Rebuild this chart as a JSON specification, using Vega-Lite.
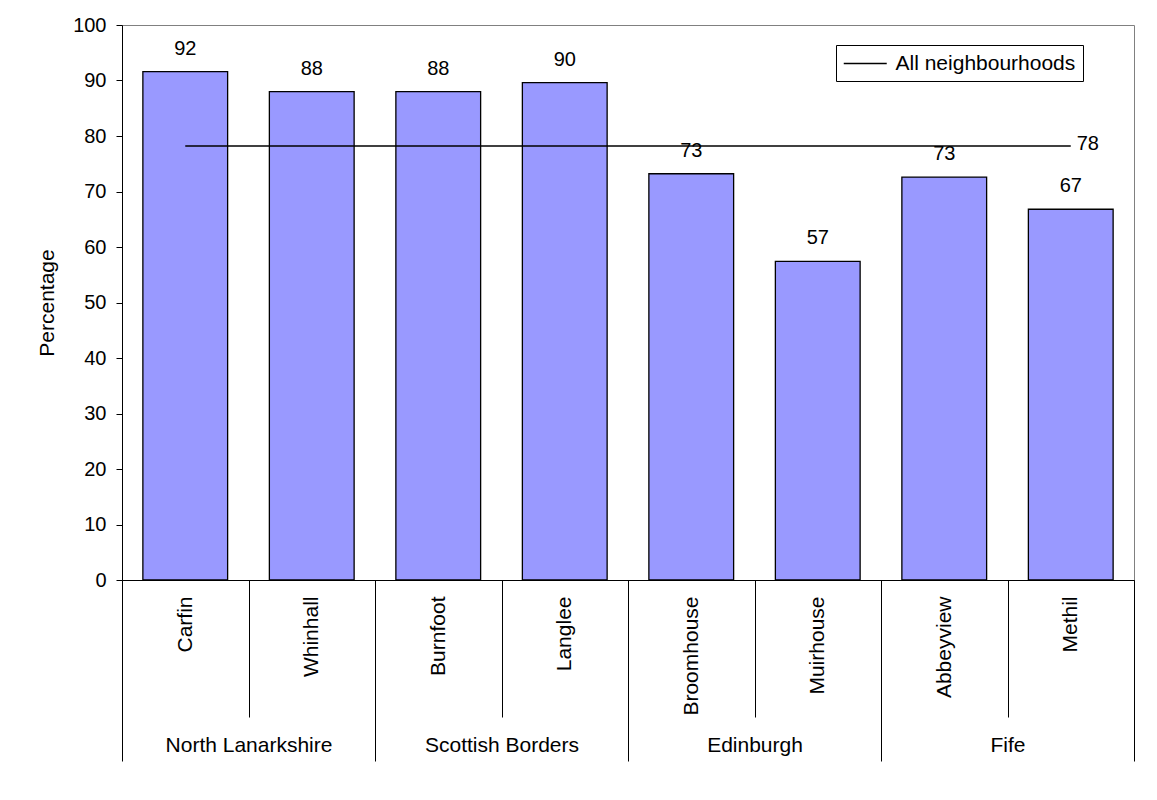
{
  "$schema": "https://vega.github.io/schema/vega-lite/v6.json",
  "width": 1012,
  "height": 555,
  "autosize": {"type": "none"},
  "padding": {"left": 122, "top": 25, "right": 23, "bottom": 220},
  "background": "white",
  "config": {
    "font": "Liberation Sans",
    "view": {"stroke": "#808080", "strokeWidth": 1},
    "axis": {
      "labelFont": "Liberation Sans",
      "titleFont": "Liberation Sans",
      "labelColor": "black",
      "titleColor": "black",
      "domainColor": "black",
      "tickColor": "black",
      "labelFontSize": 20,
      "titleFontSize": 21,
      "titleFontWeight": "normal",
      "grid": false
    },
    "text": {"font": "Liberation Sans", "fontSize": 20, "color": "black"}
  },
  "datasets": {
    "bars": [
      {"name": "Carfin", "group": "North Lanarkshire", "value": 91.6},
      {"name": "Whinhall", "group": "North Lanarkshire", "value": 88.0},
      {"name": "Burnfoot", "group": "Scottish Borders", "value": 88.0},
      {"name": "Langlee", "group": "Scottish Borders", "value": 89.6},
      {"name": "Broomhouse", "group": "Edinburgh", "value": 73.2},
      {"name": "Muirhouse", "group": "Edinburgh", "value": 57.4},
      {"name": "Abbeyview", "group": "Fife", "value": 72.6},
      {"name": "Methil", "group": "Fife", "value": 66.8}
    ],
    "overall": [
      {"name": "Carfin", "value": 78.2},
      {"name": "Whinhall", "value": 78.2},
      {"name": "Burnfoot", "value": 78.2},
      {"name": "Langlee", "value": 78.2},
      {"name": "Broomhouse", "value": 78.2},
      {"name": "Muirhouse", "value": 78.2},
      {"name": "Abbeyview", "value": 78.2},
      {"name": "Methil", "value": 78.2}
    ]
  },
  "layer": [
    {
      "data": {"name": "bars"},
      "mark": {"type": "tick", "opacity": 0},
      "encoding": {
        "x": {
          "field": "group",
          "type": "nominal",
          "sort": ["North Lanarkshire", "Scottish Borders", "Edinburgh", "Fife"],
          "scale": {"paddingInner": 0, "paddingOuter": 0},
          "axis": {
            "title": null,
            "orient": "bottom",
            "labelAngle": 0,
            "labelFontSize": 21,
            "tickBand": "extent",
            "tickSize": 181,
            "labelPadding": -27,
            "domain": false
          }
        }
      }
    },
    {
      "encoding": {
        "x": {
          "field": "name",
          "type": "nominal",
          "sort": ["Carfin", "Whinhall", "Burnfoot", "Langlee", "Broomhouse", "Muirhouse", "Abbeyview", "Methil"],
          "scale": {"paddingInner": 0, "paddingOuter": 0},
          "axis": {
            "title": null,
            "orient": "bottom",
            "labelAngle": -90,
            "labelFontSize": 21,
            "tickBand": "extent",
            "tickSize": 137,
            "labelPadding": -121
          }
        },
        "y": {
          "field": "value",
          "type": "quantitative",
          "scale": {"domain": [0, 100]},
          "axis": {
            "title": "Percentage",
            "values": [0, 10, 20, 30, 40, 50, 60, 70, 80, 90, 100],
            "tickSize": 6,
            "labelPadding": 10,
            "titlePadding": 15
          }
        }
      },
      "layer": [
        {
          "data": {"name": "bars"},
          "mark": {"type": "bar", "width": {"band": 0.67}, "fill": "#9999FF", "stroke": "black", "strokeWidth": 1.3}
        },
        {
          "data": {"name": "bars"},
          "mark": {"type": "text", "baseline": "alphabetic", "dy": -17, "fontSize": 20},
          "encoding": {"text": {"field": "value", "type": "quantitative", "format": ".0f"}}
        },
        {
          "data": {"name": "overall"},
          "mark": {"type": "line", "strokeWidth": 1.3},
          "encoding": {
            "color": {
              "datum": "All neighbourhoods",
              "scale": {"range": ["black"]},
              "legend": {
                "title": null,
                "orient": "none",
                "legendX": 714,
                "legendY": 20,
                "strokeColor": "black",
                "fillColor": "white",
                "padding": 7,
                "symbolType": "M-1,0H3",
                "symbolSize": 462,
                "symbolStrokeWidth": 1.3,
                "labelFontSize": 21,
                "labelFont": "Liberation Sans",
                "labelColor": "black",
                "labelOffset": 29.5,
                "labelLimit": 0
              }
            }
          }
        },
        {
          "data": {"name": "overall"},
          "transform": [{"filter": "datum.name === 'Methil'"}],
          "mark": {"type": "text", "align": "left", "baseline": "middle", "dx": 6, "dy": -2, "fontSize": 20},
          "encoding": {"text": {"field": "value", "type": "quantitative", "format": ".0f"}}
        }
      ]
    }
  ],
  "resolve": {"scale": {"x": "independent"}, "axis": {"x": "independent"}}
}
